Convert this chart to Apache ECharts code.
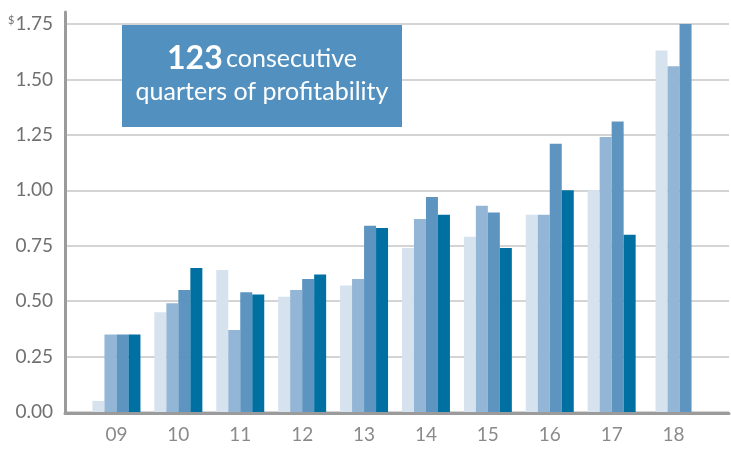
<!DOCTYPE html>
<html>
<head>
<meta charset="utf-8">
<script src="https://cdn.jsdelivr.net/npm/echarts@6/dist/echarts.min.js"></script>
<style>html,body{margin:0;padding:0;background:#fff}#c{width:731px;height:461px}</style>
</head>
<body>
<div id="c"></div>
<script>
var categories = ['09','10','11','12','13','14','15','16','17','18'];
var seriesA = [0.05,0.45,0.64,0.52,0.57,0.74,0.79,0.89,1.00,1.63];
var seriesB = [0.35,0.49,0.37,0.55,0.60,0.87,0.93,0.89,1.24,1.56];
var seriesC = [0.35,0.55,0.54,0.60,0.84,0.97,0.90,1.21,1.31,1.76];
var seriesD = [0.35,0.65,0.53,0.62,0.83,0.89,0.74,1.00,0.80,null];
var yTicks = [0,0.25,0.5,0.75,1.0,1.25,1.5,1.75];
var colors = ['#d6e3ef','#94b6d6','#5d95c0','#0070a3'];

var all = [seriesA, seriesB, seriesC, seriesD];
var complete = categories.map(function(c,i){ return seriesD[i] != null; });
var series = [];
all.forEach(function(arr, k){
  series.push({
    type:'bar', xAxisIndex:2, yAxisIndex:2, barWidth:12, barGap:'0%',
    itemStyle:{color:colors[k]}, z:3,
    data: arr.map(function(v,i){ return complete[i] ? v : null; })
  });
});
all.slice(0,3).forEach(function(arr, k){
  series.push({
    type:'bar', xAxisIndex:3, yAxisIndex:2, barWidth:12, barGap:'0%',
    itemStyle:{color:colors[k]}, z:3,
    data: arr.map(function(v,i){ return complete[i] ? null : v; })
  });
});

var chart = echarts.init(document.getElementById('c'), null, {renderer:'canvas'});
var font = 'Lato';
chart.setOption({
  animation:false,
  grid:[
    {left:65, right:2, top:12, bottom:47.5},
    {left:65, right:2, top:24, bottom:49},
    {left:85.5, width:619, top:24, bottom:49}
  ],
  xAxis:[
    {gridIndex:0, type:'value', min:0, max:1, axisLine:{show:true, lineStyle:{color:'#9b9b9b', width:3}}, axisTick:{show:false}, axisLabel:{show:false}, splitLine:{show:false}},
    {gridIndex:1, type:'value', min:0, max:1, show:false},
    {gridIndex:2, type:'category', data:categories, position:'bottom',
      axisLine:{show:false}, axisTick:{show:false},
      axisLabel:{color:'#8a8a8a', fontFamily:font, fontSize:19, margin:13}},
    {gridIndex:2, type:'category', data:categories, position:'top', show:false}
  ],
  yAxis:[
    {gridIndex:0, type:'value', min:0, max:1, axisLine:{show:true, lineStyle:{color:'#9b9b9b', width:3}}, axisTick:{show:false}, axisLabel:{show:false}, splitLine:{show:false}},
    {gridIndex:1, type:'value', min:yTicks[0], max:yTicks[yTicks.length-1], interval:0.25,
      axisLine:{show:false}, axisTick:{show:false},
      splitLine:{show:true, lineStyle:{color:'#d4d4d4', width:2}},
      axisLabel:{color:'#707070', fontFamily:font, fontSize:19, margin:12,
        formatter:function(v){
          var s = v.toFixed(2);
          return v === yTicks[yTicks.length-1] ? '{sup|$}' + s : s;
        },
        rich:{sup:{fontSize:11, color:'#707070', fontFamily:font, verticalAlign:'top', padding:[0,1,8,0]}}
      }},
    {gridIndex:2, type:'value', min:yTicks[0], max:yTicks[yTicks.length-1], show:false}
  ],
  graphic:[
    {type:'rect', left:122, top:25, shape:{width:280, height:102}, style:{fill:'#5291bf'}, z:10},
    {type:'text', z:11, style:{
      x:262, y:59, text:'{b|123} {n|consecutive}', align:'center', verticalAlign:'middle',
      rich:{b:{fontFamily:font, fontWeight:'bold', fontSize:32, fill:'#fff', fontSize:32}, n:{fontFamily:font, fontSize:25, fill:'#fff'}}
    }},
    {type:'text', z:11, style:{
      x:262, y:92, text:'quarters of profitability', align:'center', verticalAlign:'middle',
      fontFamily:font, fontSize:25, fill:'#fff'
    }}
  ],
  series: series
});
</script>
</body>
</html>
